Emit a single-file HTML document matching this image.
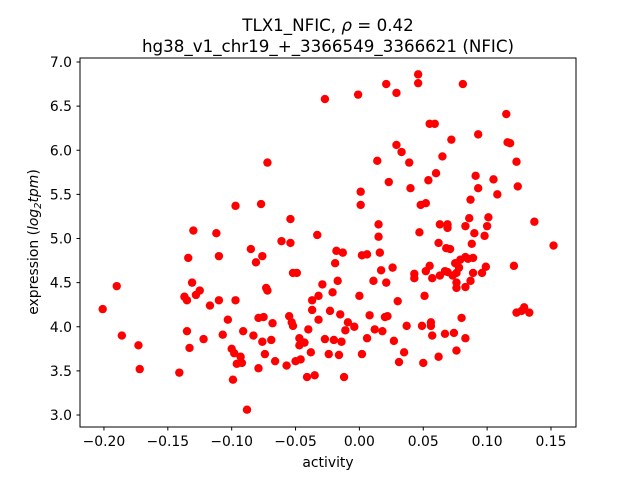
<!DOCTYPE html>
<html><head><meta charset="utf-8"><style>
body{margin:0;background:#fff;}
svg text{font-family:"DejaVu Sans","Liberation Sans",sans-serif;fill:#000;}
</style></head><body>
<svg id="chart" width="640" height="480" xmlns="http://www.w3.org/2000/svg">
<rect width="640" height="480" fill="#fff"/>
<text x="328" y="31" font-size="16.7" text-anchor="middle">TLX1_NFIC, <tspan font-style="italic">ρ</tspan> = 0.42</text>
<text x="328" y="52" font-size="16.7" text-anchor="middle">hg38_v1_chr19_+_3366549_3366621 (NFIC)</text>
<g id="marks"></g>
<rect x="80" y="58" width="496" height="369" fill="none" stroke="#000" stroke-width="1"/>
<g id="xt"></g>
<g id="yt"></g>
<text x="328" y="467" font-size="13.9" text-anchor="middle">activity</text>
<text transform="translate(38,242) rotate(-90)" font-size="13.9" text-anchor="middle">expression (<tspan font-style="italic">log</tspan><tspan font-style="italic" font-size="10" dy="3">2</tspan><tspan font-style="italic" dy="-3">tpm</tspan>)</text>
</svg>
<script>
const xs=[-0.201,-0.190,-0.186,-0.173,-0.172,-0.141,-0.137,-0.135,-0.135,-0.133,-0.134,-0.131,-0.130,-0.128,-0.125,-0.122,-0.117,-0.112,-0.110,-0.110,-0.107,-0.103,-0.100,-0.099,-0.098,-0.097,-0.097,-0.096,-0.093,-0.092,-0.091,-0.088,-0.085,-0.083,-0.081,-0.079,-0.079,-0.077,-0.076,-0.075,-0.076,-0.074,-0.072,-0.073,-0.072,-0.069,-0.068,-0.066,-0.061,-0.057,-0.055,-0.054,-0.054,-0.053,-0.052,-0.052,-0.050,-0.049,-0.047,-0.047,-0.046,-0.043,-0.041,-0.040,-0.038,-0.037,-0.037,-0.035,-0.033,-0.032,-0.032,-0.029,-0.027,-0.027,-0.024,-0.023,-0.021,-0.020,-0.019,-0.018,-0.017,-0.016,-0.015,-0.014,-0.013,-0.012,-0.011,-0.009,-0.004,-0.001,0.001,0.001,0.002,0.000,0.002,0.006,0.006,0.008,0.011,0.012,0.014,0.015,0.015,0.016,0.017,0.018,0.020,0.021,0.021,0.022,0.023,0.026,0.027,0.029,0.029,0.030,0.031,0.033,0.035,0.037,0.039,0.040,0.043,0.043,0.046,0.046,0.047,0.048,0.049,0.050,0.051,0.052,0.052,0.054,0.055,0.055,0.056,0.056,0.057,0.057,0.059,0.060,0.062,0.062,0.063,0.063,0.065,0.067,0.067,0.068,0.069,0.069,0.069,0.071,0.072,0.073,0.074,0.075,0.076,0.076,0.076,0.076,0.078,0.079,0.080,0.081,0.083,0.083,0.083,0.083,0.085,0.086,0.087,0.087,0.088,0.089,0.089,0.090,0.091,0.093,0.093,0.096,0.098,0.099,0.100,0.101,0.105,0.108,0.115,0.116,0.118,0.121,0.123,0.124,0.123,0.127,0.129,0.133,0.137,0.152];
const ys=[4.20,4.46,3.90,3.79,3.52,3.48,4.34,4.30,3.95,3.76,4.78,4.50,5.09,4.36,4.41,3.86,4.24,5.06,4.80,4.30,3.91,4.08,3.75,3.40,3.70,5.37,4.30,3.58,3.66,3.59,3.95,3.06,4.88,3.90,4.73,4.10,3.53,5.39,4.80,4.11,3.83,3.69,5.86,4.44,4.41,3.85,4.04,3.61,4.97,3.56,4.12,5.22,4.95,4.05,4.01,4.61,3.61,4.61,3.87,3.79,3.63,3.82,3.43,3.97,3.71,4.30,4.19,3.45,5.04,4.35,4.08,4.48,6.58,3.86,3.69,4.18,4.39,3.85,4.72,4.86,4.52,3.68,4.14,3.83,4.84,3.43,3.96,4.05,4.00,6.63,5.53,5.38,4.81,4.35,3.69,3.87,4.82,4.13,4.52,3.97,5.88,5.16,5.02,4.84,4.64,3.95,4.11,6.75,4.50,4.12,5.64,4.67,3.84,6.65,6.06,4.29,3.60,5.98,3.71,4.01,5.86,5.57,4.60,4.55,6.76,6.86,5.07,5.38,4.01,3.59,4.35,5.40,4.63,5.66,4.69,6.30,4.05,4.01,3.90,4.55,6.30,5.74,3.66,4.95,4.58,5.16,5.93,4.63,3.92,4.89,5.16,4.62,5.12,4.88,6.12,4.58,3.93,4.72,3.73,4.61,4.50,4.44,4.67,4.76,4.10,6.75,4.79,4.45,3.87,5.14,4.77,5.23,5.44,4.52,4.94,4.61,4.78,5.06,5.71,6.18,5.57,4.61,5.03,4.68,5.14,5.24,5.67,5.50,6.41,6.09,6.08,4.69,5.87,5.59,4.16,4.18,4.22,4.16,5.19,4.92];
const xTicks=[-0.20,-0.15,-0.10,-0.05,0.00,0.05,0.10,0.15];
const xTickLabels=["−0.20","−0.15","−0.10","−0.05","0.00","0.05","0.10","0.15"];
const yTicks=[3.0,3.5,4.0,4.5,5.0,5.5,6.0,6.5,7.0];
const yTickLabels=["3.0","3.5","4.0","4.5","5.0","5.5","6.0","6.5","7.0"];
const NS="http://www.w3.org/2000/svg";
function sx(v){return 359.4+v*1277.2;}
function sy(v){return 62+(7-v)*88.25;}
const marks=document.getElementById('marks');
for(let i=0;i<xs.length;i++){
  const c=document.createElementNS(NS,'circle');
  c.setAttribute('cx',sx(xs[i]));c.setAttribute('cy',sy(ys[i]));c.setAttribute('r',4.2);c.setAttribute('fill','#ff0000');
  
  
  marks.appendChild(c);
}
const xt=document.getElementById('xt');
xTicks.forEach((t,i)=>{
  const x=sx(t);
  const l=document.createElementNS(NS,'line');
  l.setAttribute('x1',x);l.setAttribute('x2',x);l.setAttribute('y1',427);l.setAttribute('y2',430.5);l.setAttribute('stroke','#000');
  
  
  xt.appendChild(l);
  const tx=document.createElementNS(NS,'text');
  tx.setAttribute('x',x);tx.setAttribute('y',446);tx.setAttribute('font-size','13.9');tx.setAttribute('text-anchor','middle');
  tx.textContent=xTickLabels[i];
  
  
  xt.appendChild(tx);
});
const yt=document.getElementById('yt');
yTicks.forEach((t,i)=>{
  const y=sy(t);
  const l=document.createElementNS(NS,'line');
  l.setAttribute('x1',76.5);l.setAttribute('x2',80);l.setAttribute('y1',y);l.setAttribute('y2',y);l.setAttribute('stroke','#000');
  
  
  yt.appendChild(l);
  const tx=document.createElementNS(NS,'text');
  tx.setAttribute('x',72);tx.setAttribute('y',y+5);tx.setAttribute('font-size','13.9');tx.setAttribute('text-anchor','end');
  tx.textContent=yTickLabels[i];
  
  
  yt.appendChild(tx);
});
</script>
</body></html>
